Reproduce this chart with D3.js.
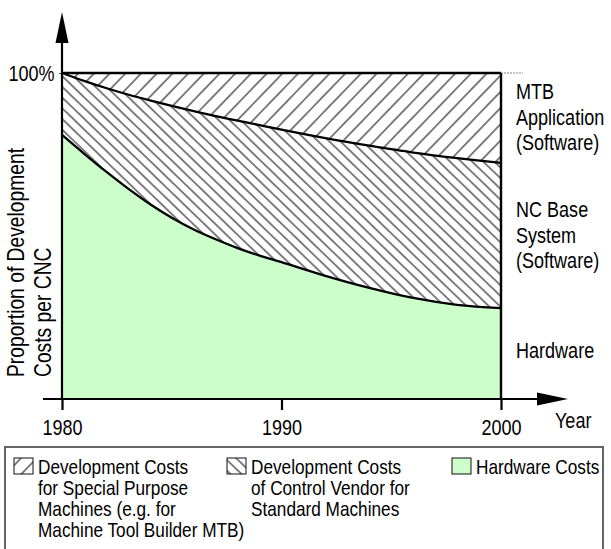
<!DOCTYPE html>
<html>
<head>
<meta charset="utf-8">
<script src="https://cdn.jsdelivr.net/npm/d3@7/dist/d3.min.js"></script>
<style>
  html, body { margin: 0; padding: 0; background: #fff; }
  svg { display: block; }
</style>
</head>
<body>
<svg id="chart" width="611" height="549"></svg>
<script>
// ---- data ----
const years    = [1980, 1981, 1982, 1983, 1984, 1985, 1986, 1987, 1988, 1989, 1990, 1992, 1994, 1996, 1998, 2000];
const hardware = [81, 75.3, 69.8, 64.6, 59.8, 55.6, 52.0, 49.0, 46.3, 44.0, 42.0, 37.8, 34.1, 31.0, 28.9, 27.9];
const mtbLower = [100, 97.6, 95.4, 93.4, 91.6, 89.9, 88.3, 86.8, 85.4, 84.0, 82.6, 80.0, 77.7, 75.6, 73.9, 72.4];
const xTicks = [1980, 1990, 2000];
const yTicks = [100];
const yTickLabels = ["100%"];
const xTitle = "Year";
const yTitle = ["Proportion of Development", "Costs per CNC"];
const regionLabels = [
  { lines: ["MTB", "Application", "(Software)"], base: 99 },
  { lines: ["NC Base", "System", "(Software)"], base: 217 },
  { lines: ["Hardware"], base: 358 }
];
const legendItems = [
  { kind: "mtb",    lines: ["Development Costs", "for Special Purpose", "Machines (e.g. for", "Machine Tool Builder MTB)"] },
  { kind: "vendor", lines: ["Development Costs", "of Control Vendor for", "Standard Machines"] },
  { kind: "hw",     lines: ["Hardware Costs"] }
];
const GREEN = "#ccfdcb";

const svg = d3.select("#chart");

// ---- font detection (narrow font) ----
const FAM = '"Liberation Sans Narrow", "Liberation Sans", Arial, sans-serif';
let sx = 1;
{
  const t = svg.append("text").style("font-size", "100px").style("font-family", FAM).text("Hardware Costs");
  const w1 = t.node().getComputedTextLength();
  t.style("font-family", '"Liberation Sans", Arial, sans-serif');
  const w2 = t.node().getComputedTextLength();
  t.remove();
  if (w1 > w2 * 0.9) sx = 0.82;
}
function txt(parent, x, y, str, size, anchor = "start", rot = 0) {
  const g = parent.append("g").attr("transform", `translate(${x},${y}) rotate(${rot}) scale(${sx},1)`);
  g.append("text").attr("x", 0).attr("y", 0)
    .style("font-family", FAM).style("font-size", size + "px")
    .attr("text-anchor", anchor).attr("fill", "#000").text(str);
  return g;
}

// ---- scales ----
const x = d3.scaleLinear().domain([1980, 2000]).range([62, 501]);
const y = d3.scaleLinear().domain([0, 100]).range([399, 73]);

// ---- patterns ----
const defs = svg.append("defs");
function hatch(id, angle, spacing) {
  const p = defs.append("pattern").attr("id", id).attr("patternUnits", "userSpaceOnUse")
    .attr("width", spacing).attr("height", spacing)
    .attr("patternTransform", `rotate(${angle})`);
  p.append("rect").attr("width", spacing).attr("height", spacing).attr("fill", "#fff");
  p.append("line").attr("x1", spacing / 2).attr("y1", 0).attr("x2", spacing / 2).attr("y2", spacing)
    .attr("stroke", "#000").attr("stroke-width", 1);
}
hatch("hMTB", 44, 11.3);
hatch("hVEN", -46, 7.7);

const data = years.map((yr, i) => ({ yr, hw: hardware[i], mtb: mtbLower[i] }));
const curve = d3.curveCatmullRom.alpha(0.5);

// areas
svg.append("path").datum(data)
  .attr("d", d3.area().curve(curve).x(d => x(d.yr)).y0(y(0)).y1(d => y(d.hw)))
  .attr("fill", GREEN);
svg.append("path").datum(data)
  .attr("d", d3.area().curve(curve).x(d => x(d.yr)).y0(d => y(d.hw)).y1(d => y(d.mtb)))
  .attr("fill", "url(#hVEN)");
svg.append("path").datum(data)
  .attr("d", d3.area().curve(curve).x(d => x(d.yr)).y0(d => y(d.mtb)).y1(y(100)))
  .attr("fill", "url(#hMTB)");

// boundary lines
const line = (acc) => d3.line().curve(curve).x(d => x(d.yr)).y(d => y(acc(d)));
svg.append("path").datum(data).attr("d", line(d => d.hw)).attr("fill", "none").attr("stroke", "#000").attr("stroke-width", 2.3);
svg.append("path").datum(data).attr("d", line(d => d.mtb)).attr("fill", "none").attr("stroke", "#000").attr("stroke-width", 2.3);
// top 100% line
svg.append("line").attr("x1", x(1980)).attr("x2", x(2000)).attr("y1", y(100)).attr("y2", y(100))
  .attr("stroke", "#000").attr("stroke-width", 2.4);
svg.append("line").attr("x1", x(2000)).attr("x2", x(2000) + 22).attr("y1", y(100)).attr("y2", y(100))
  .attr("stroke", "#888").attr("stroke-width", 1).attr("stroke-dasharray", "2,1");
// right vertical line at 2000
svg.append("line").attr("x1", x(2000)).attr("x2", x(2000)).attr("y1", y(0)).attr("y2", y(100))
  .attr("stroke", "#000").attr("stroke-width", 2.4);

// ---- axes ----
const xAxis = d3.axisBottom(x).tickValues(xTicks).tickFormat(d3.format("d")).tickSize(11).tickPadding(14);
const gx = svg.append("g").attr("transform", `translate(0,${y(0)})`).call(xAxis);
gx.select(".domain").remove();
gx.selectAll(".tick line").attr("stroke", "#000").attr("stroke-width", 2.2);
gx.selectAll(".tick text").attr("y", 36).attr("dy", 0).style("font-family", FAM).style("font-size", "22px")
  .attr("fill", "#000").attr("transform", `scale(${sx},1)`);

const yAxis = d3.axisLeft(y).tickValues(yTicks).tickFormat((d, i) => yTickLabels[i]).tickSize(3).tickPadding(6);
const gy = svg.append("g").attr("transform", `translate(${x(1980)},0)`).call(yAxis);
gy.select(".domain").remove();
gy.selectAll(".tick line").attr("stroke", "#555").attr("stroke-width", 1);
gy.selectAll(".tick text").attr("dy", "0.36em").style("font-family", FAM).style("font-size", "22px")
  .attr("fill", "#000").attr("transform", `scale(${sx},1)`);

// axis lines with arrows
svg.append("line").attr("x1", 43).attr("x2", 545).attr("y1", y(0)).attr("y2", y(0)).attr("stroke", "#000").attr("stroke-width", 2.2);
svg.append("path").attr("d", `M568,${y(0)} L537,${y(0) - 6.5} L537,${y(0) + 6.5} Z`).attr("fill", "#000");
svg.append("line").attr("x1", x(1980)).attr("x2", x(1980)).attr("y1", y(0)).attr("y2", 38).attr("stroke", "#000").attr("stroke-width", 2.2);
svg.append("path").attr("d", `M${x(1980)},12 L${x(1980) - 6.5},43 L${x(1980) + 6.5},43 Z`).attr("fill", "#000");

// axis titles
txt(svg, 555, 428, xTitle, 22);
txt(svg, 24, 377, yTitle[0], 23.5, "start", -90);
txt(svg, 51, 377, yTitle[1], 23.5, "start", -90);

// region labels on the right
regionLabels.forEach(r => {
  r.lines.forEach((l, i) => txt(svg, 516, r.base + i * 25.5, l, 22));
});

// ---- legend ----
svg.append("rect").attr("x", 5).attr("y", 447).attr("width", 598).attr("height", 130)
  .attr("fill", "none").attr("stroke", "#666").attr("stroke-width", 2);
const legX = [14, 227, 452];
legendItems.forEach((it, k) => {
  const sxp = legX[k];
  const fill = it.kind === "mtb" ? "url(#hMTB)" : it.kind === "vendor" ? "url(#hVEN)" : GREEN;
  svg.append("rect").attr("x", sxp).attr("y", 458).attr("width", 19).attr("height", 16)
    .attr("fill", fill).attr("stroke", "#111").attr("stroke-width", 1);
  it.lines.forEach((l, i) => txt(svg, sxp + 24, 474 + i * 21, l, 21));
});
</script>
</body>
</html>
